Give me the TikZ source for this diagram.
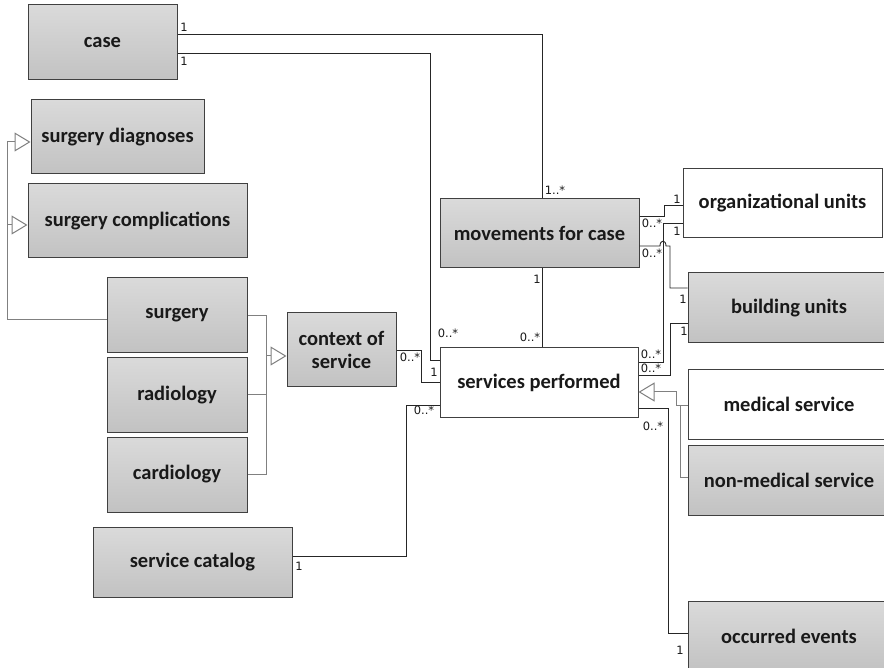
\documentclass[tikz,border=0pt]{standalone}
\usepackage{fontspec}
\setmainfont{Carlito}
\newfontfamily\multfont{DejaVu Sans}
\usetikzlibrary{arrows.meta}
\definecolor{boxtop}{RGB}{218,218,218}
\definecolor{boxbot}{RGB}{194,194,194}
\definecolor{boxline}{RGB}{64,64,64}
\definecolor{genline}{RGB}{128,128,128}
\definecolor{inktext}{RGB}{25,25,25}
\begin{document}
\begin{tikzpicture}[x=1pt,y=-1pt,
  box/.style={draw=boxline, line width=1pt, font=\fontsize{20.5}{23}\selectfont\bfseries,
    text=inktext, align=center, inner sep=0pt},
  graybox/.style={box, top color=boxtop, bottom color=boxbot},
  whitebox/.style={box, fill=white},
  assoc/.style={draw=black!85, line width=0.9pt},
  gen/.style={draw=genline, line width=1pt},
  genhead/.style={-{Triangle[open, length=16pt, width=19pt, line width=1pt]}},
  mult/.style={font=\multfont\fontsize{11.5}{13}\selectfont, inner sep=0pt, text=inktext},
]
\useasboundingbox (0,0) rectangle (884,668);
\clip (0,0) rectangle (884,668);

% classes
\node[graybox, minimum width=149pt, minimum height=75pt] (case) at (102.5,42.5) {case};
\node[graybox, minimum width=173pt, minimum height=74pt] (diag) at (117.5,137) {surgery diagnoses};
\node[graybox, minimum width=219pt, minimum height=74pt] (compl) at (137.5,221) {surgery complications};
\node[graybox, minimum width=140pt, minimum height=75pt] (surgery) at (177,315.5) {surgery};
\node[graybox, minimum width=140pt, minimum height=74pt] (radiology) at (177,395) {radiology};
\node[graybox, minimum width=140pt, minimum height=75pt] (cardiology) at (177,474.5) {cardiology};
\node[graybox, minimum width=109pt, minimum height=74pt] (context) at (341.5,350) {context of\\service};
\node[graybox, minimum width=199pt, minimum height=70pt] (catalog) at (192.5,562) {service catalog};
\node[graybox, minimum width=199pt, minimum height=69pt] (movements) at (539.5,233.5) {movements for case};
\node[whitebox, minimum width=198pt, minimum height=69pt] (services) at (539,382.5) {services performed};
\node[whitebox, minimum width=199pt, minimum height=69pt] (org) at (782.5,203.5) {organizational units};
\node[graybox, minimum width=202pt, minimum height=70pt] (building) at (789,308) {building units};
\node[whitebox, minimum width=202pt, minimum height=69pt] (medical) at (789,404.5) {medical service};
\node[graybox, minimum width=202pt, minimum height=70pt] (nonmed) at (789,480) {non-medical service};
\node[graybox, minimum width=202pt, minimum height=71pt] (events) at (789,636.5) {occurred events};

% generalizations
\draw[gen, genhead] (surgery.west |- 0,320) -- (7,320) -- (7,142) -- (diag.west |- 0,142);
\draw[gen, genhead] (7,225) -- (compl.west |- 0,225);
\draw[gen] (surgery.east |- 0,316) -- (266,316) -- (266,474) -- (cardiology.east |- 0,474);
\draw[gen] (radiology.east |- 0,395) -- (266,395);
\draw[gen, genhead] (266,356) -- (context.west |- 0,356);
\draw[gen, genhead] (medical.west |- 0,405) -- (676,405) -- (676,392) -- (services.east |- 0,392);
\draw[gen] (nonmed.west |- 0,477) -- (680,477) -- (680,405);

% associations
\draw[assoc] (case.east |- 0,34) -- (542,34) -- (movements.north -| 542,0);
\draw[assoc] (case.east |- 0,53) -- (430,53) -- (430,360) -- (services.west |- 0,360);
\draw[assoc] (context.east |- 0,350) -- (421,350) -- (421,382) -- (services.west |- 0,382);
\draw[assoc] (catalog.east |- 0,556) -- (406,556) -- (406,405) -- (services.west |- 0,405);
\draw[assoc] (movements.south -| 542,0) -- (services.north -| 542,0);
\draw[assoc] (movements.east |- 0,216) -- (664,216) -- (664,205) -- (org.west |- 0,205);
\draw[assoc] (org.west |- 0,223) -- (663,223) -- (663,362) -- (services.east |- 0,362);
\draw[assoc] (movements.east |- 0,246) -- (660,246) .. controls (660,239.5) and (666,239.5) .. (666,246)
  -- (670,246) -- (670,288) -- (building.west |- 0,288);
\draw[assoc] (building.west |- 0,323) -- (670,323) -- (670,375) -- (services.east |- 0,375);
\draw[assoc] (services.east |- 0,408) -- (668,408) -- (668,633) -- (events.west |- 0,633);

% multiplicities
\node[mult] (m1) at (184,27.5) {1};
\node[mult] (m2) at (184,61) {1};
\node[mult] (m3) at (555,190.5) {1..*};
\node[mult] (m4) at (537,279) {1};
\node[mult] (m5) at (530,337) {0..*};
\node[mult] (m6) at (448,333) {0..*};
\node[mult] (m7) at (410,357) {0..*};
\node[mult] (m8) at (434,372) {1};
\node[mult] (m9) at (424,410) {0..*};
\node[mult] (m10) at (299,566) {1};
\node[mult] (m11) at (652,223) {0..*};
\node[mult] (m12) at (652,253) {0..*};
\node[mult] (m13) at (677,199) {1};
\node[mult] (m14) at (677,231) {1};
\node[mult] (m15) at (683,299) {1};
\node[mult] (m16) at (684,331) {1};
\node[mult] (m17) at (651,354) {0..*};
\node[mult] (m18) at (651,368) {0..*};
\node[mult] (m19) at (653,426) {0..*};
\node[mult] (m20) at (680,650) {1};
\end{tikzpicture}
\end{document}
